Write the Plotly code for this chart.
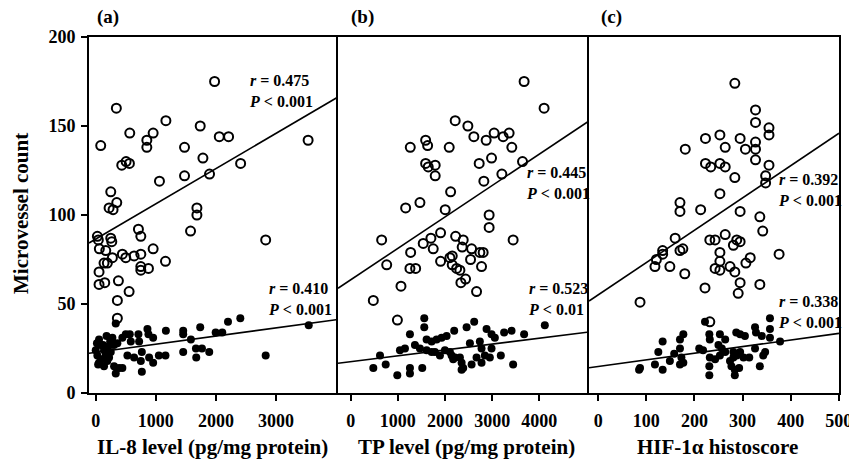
import plotly.graph_objects as go

# ---------------- data ----------------
# Panel (a): IL-8 level vs microvessel count
il8_open_x = [1977, 343, 83, 566, 850, 955, 850, 1167, 1477, 1738, 2055, 2210, 1783, 1893, 2410,
              1477, 1060, 3533, 433, 505, 560, 250, 222, 350, 288, 1683, 1683, 710, 750, 1577,
              27, 43, 60, 250, 267, 167, 277, 443, 500, 638, 750, 955, 138, 193, 55, 377, 55,
              150, 555, 360, 360, 750, 750, 877, 1160, 2827]
il8_open_y = [175, 160, 139, 146, 142, 146, 138, 153, 138, 150, 144, 144, 132, 123, 129,
              122, 119, 142, 128, 130, 129, 113, 104, 107, 103, 104, 100, 92, 88, 91,
              88, 86, 81, 87, 85, 80, 76, 78, 76, 77, 78, 81, 73, 73, 68, 63, 61,
              62, 57, 52, 42, 71, 69, 70, 74, 86]
il8_fill_x = [333, 55, 122, 0, 138, 193, 277, 305, 360, 443, 500, 566, 583, 710, 722, 860, 877,
              955, 1167, 1455, 1455, 1583, 1738, 1995, 2105, 2200, 2405, 3543, 1455, 1667, 1767,
              1672, 1888, 2827, 1050, 1160, 527, 638, 767, 750, 888, 955, 767, 27, 167, 55, 138,
              193, 305, 388, 443, 333, 250, 222, 80, 20, 100, 40, 180, 240]
il8_fill_y = [39, 30, 27, 24, 24, 26, 31, 27, 28, 31, 33, 33, 29, 33, 29, 36, 33,
              31, 35, 35, 33, 30, 37, 34, 34, 40, 42, 38, 23, 25, 25,
              20, 23, 21, 21, 21, 21, 20, 23, 18, 20, 17, 12, 21, 21, 17, 15,
              18, 15, 14, 14, 11, 23, 20, 27, 28, 19, 16, 32, 29]

# Panel (b): TP level vs microvessel count
tp_open_x = [3678, 4102, 2216, 2485, 2612, 2873, 3042, 3233, 3360, 3417, 1263, 1589, 1631, 2089,
             1589, 1644, 1792, 1792, 2725, 2987, 3644, 3206, 2824, 2119, 1165, 1468, 2004, 2936,
             2936, 656, 3445, 1906, 1701, 1538, 1750, 2225, 2386, 2364, 2564, 2739, 2809, 1271,
             763, 1256, 1377, 1906, 2104, 2153, 2153, 2246, 2316, 2542, 2775, 2337, 2436, 2669,
             1066, 479, 990]
tp_open_y = [175, 160, 153, 150, 144, 142, 146, 144, 146, 138, 138, 142, 139, 138,
             129, 127, 128, 122, 129, 132, 130, 123, 119, 113, 104, 107, 103, 100,
             93, 86, 86, 90, 87, 84, 81, 88, 86, 82, 81, 79, 79, 79,
             72, 70, 70, 74, 76, 77, 72, 70, 69, 75, 71, 62, 64, 57,
             60, 52, 41]
tp_fill_x = [1560, 1560, 2619, 2458, 2195, 1256, 2881, 2987, 3057, 3254, 3411, 3678, 4117, 1610,
             1716, 1822, 1928, 2034, 1362, 1468, 1044, 1150, 621, 1610, 1716, 1786, 1892, 1998,
             2104, 2140, 2174, 2210, 2316, 2352, 2386, 2352, 2528, 2739, 2775, 2669, 2775, 2845,
             2951, 2987, 2564, 3184, 3445, 479, 742, 988, 1256, 1256, 1517]
tp_fill_y = [42, 37, 40, 37, 35, 33, 36, 33, 31, 34, 35, 33, 38, 30,
             29, 30, 31, 32, 27, 25, 24, 25, 21, 24, 23, 23, 21, 24,
             23, 21, 19, 20, 20, 17, 14, 13, 28, 29, 25, 20, 17, 21,
             20, 25, 16, 21, 16, 14, 16, 10, 14, 11, 14]

# Panel (c): HIF-1alpha histoscore vs microvessel count
hif_open_x = [284, 327, 327, 355, 355, 223, 253, 295, 264, 306, 327, 327, 181, 327, 223, 234,
              253, 264, 284, 355, 348, 348, 253, 170, 170, 213, 295, 336, 342, 264, 232, 243,
              281, 288, 295, 160, 134, 134, 121, 118, 149, 170, 176, 180, 253, 253, 243, 253,
              274, 284, 307, 316, 376, 295, 291, 336, 222, 87, 232]
hif_open_y = [174, 159, 152, 149, 145, 143, 145, 143, 138, 137, 141, 137, 137, 131, 129, 127,
              129, 127, 121, 128, 122, 118, 112, 107, 102, 103, 102, 99, 91, 89, 86, 86,
              83, 86, 85, 87, 80, 78, 75, 71, 71, 80, 81, 67, 79, 74, 70, 69,
              71, 68, 73, 76, 78, 62, 56, 61, 59, 51, 40]
hif_fill_x = [222, 231, 232, 177, 170, 134, 125, 87, 118, 134, 149, 158, 170, 173, 170, 177, 210,
              218, 232, 231, 231, 243, 253, 250, 264, 257, 253, 264, 274, 277, 284, 284, 287,
              295, 305, 281, 288, 295, 281, 302, 314, 293, 326, 328, 326, 336, 343, 347, 340,
              357, 357, 357, 378, 85]
hif_fill_y = [40, 33, 30, 33, 30, 29, 23, 14, 16, 13, 18, 22, 25, 20, 16, 17, 25,
              24, 20, 15, 10, 19, 33, 27, 30, 25, 21, 23, 18, 15, 13, 10, 34,
              33, 32, 23, 21, 23, 20, 20, 20, 14, 37, 34, 25, 15, 21, 23, 32,
              42, 36, 31, 29, 13]

# regression lines: (intercept, slope)
il8_open_fit = (86.5, 0.0198)
il8_fill_fit = (22.8, 0.0046)
tp_open_fit = (63.6, 0.01765)
tp_fill_fit = (17.6, 0.0033)
hif_open_fit = (55.1, 0.1815)
hif_fill_fit = (14.9, 0.0372)

stats = [("0.475", "0.001"), ("0.410", "0.001"), ("0.445", "0.001"),
         ("0.523", "0.01"), ("0.392", "0.001"), ("0.338", "0.001")]
panel_labels = ["(a)", "(b)", "(c)"]
x_titles = ["IL-8 level (pg/mg protein)", "TP level (pg/mg protein)", "HIF-1α histoscore"]
x_ticks = [[0, 1000, 2000, 3000], [0, 1000, 2000, 3000, 4000], [0, 100, 200, 300, 400, 500]]
y_ticks = [0, 50, 100, 150, 200]
y_title = "Microvessel count"

# ---------------- figure ----------------
FONT = "Liberation Serif"
x_ranges = [[-112, 4030], [-270, 5055], [-19, 500.5]]
domains = [[0, 0.332], [0.332, 0.6667], [0.6667, 1.0]]

panels = [
    (il8_open_x, il8_open_y, il8_fill_x, il8_fill_y, il8_open_fit, il8_fill_fit),
    (tp_open_x, tp_open_y, tp_fill_x, tp_fill_y, tp_open_fit, tp_fill_fit),
    (hif_open_x, hif_open_y, hif_fill_x, hif_fill_y, hif_open_fit, hif_fill_fit),
]

fig = go.Figure()
for i, (ox, oy, fx, fy, ofit, ffit) in enumerate(panels):
    xa = "x" if i == 0 else f"x{i+1}"
    ya = "y" if i == 0 else f"y{i+1}"
    lo, hi = x_ranges[i]
    for fit in (ofit, ffit):
        fig.add_trace(go.Scatter(x=[lo, hi], y=[fit[0] + fit[1] * lo, fit[0] + fit[1] * hi],
                                 mode="lines", line=dict(color="black", width=1.6),
                                 xaxis=xa, yaxis=ya, showlegend=False, hoverinfo="skip"))
    fig.add_trace(go.Scatter(x=ox, y=oy, mode="markers",
                             marker=dict(symbol="circle-open", size=9, color="black",
                                         line=dict(width=2, color="black")),
                             xaxis=xa, yaxis=ya, showlegend=False, cliponaxis=False))
    fig.add_trace(go.Scatter(x=fx, y=fy, mode="markers",
                             marker=dict(symbol="circle", size=8, color="black"),
                             xaxis=xa, yaxis=ya, showlegend=False, cliponaxis=False))

tickfont = dict(family=FONT, size=18, color="black", weight="bold")
titlefont = dict(family=FONT, size=21, color="black", weight="bold")

layout = dict(
    width=849, height=460,
    margin=dict(l=89, r=10, t=37, b=67, autoexpand=False),
    paper_bgcolor="white", plot_bgcolor="white",
    showlegend=False,
)
for i in range(3):
    xk = "xaxis" if i == 0 else f"xaxis{i+1}"
    yk = "yaxis" if i == 0 else f"yaxis{i+1}"
    ya = "y" if i == 0 else f"y{i+1}"
    xa = "x" if i == 0 else f"x{i+1}"
    layout[xk] = dict(domain=domains[i], range=x_ranges[i], anchor=ya, automargin=False,
                      tickvals=x_ticks[i], ticks="outside", ticklen=6, tickwidth=2,
                      tickcolor="black", showline=True, linewidth=2, linecolor="black",
                      mirror=True, showgrid=False, zeroline=False, tickfont=tickfont,
                      ticklabelstandoff=4, ticklabeloverflow="allow")
    ydict = dict(domain=[0, 1], range=[0, 200], anchor=xa, showline=True, linewidth=2,
                 linecolor="black", mirror=(i == 2), showgrid=False, zeroline=False,
                 automargin=False)
    if i == 0:
        ydict.update(tickvals=y_ticks, ticks="outside", ticklen=6, tickwidth=2,
                     tickcolor="black", tickfont=tickfont, ticklabelstandoff=2)
    else:
        ydict.update(matches="y", showticklabels=False, ticks="")
    layout[yk] = ydict

fig.update_layout(**layout)

# annotations (pixel-based placement converted to paper fractions)
W, H = 750.0, 356.0
def px(xp):
    return (xp - 89) / W
def py(yp):
    return (393 - yp) / H

ann_pos = [(247, 91), (266, 298.5), (524, 183), (526, 298.5), (776, 190), (776, 311.5)]
for (r, p), (ax, ay) in zip(stats, ann_pos):
    fig.add_annotation(x=px(ax), y=py(ay), xref="paper", yref="paper",
                       xanchor="left", yanchor="middle", align="left", showarrow=False,
                       text=f"<b><i>r</i> = {r}<br><i>P</i> &lt; {p}</b>",
                       font=dict(family=FONT, size=16, color="black"))

for lab, cx in zip(panel_labels, [108, 362, 611]):
    fig.add_annotation(x=px(cx), y=py(17), xref="paper", yref="paper",
                       xanchor="center", yanchor="middle", showarrow=False,
                       text=f"<b>{lab}</b>", font=dict(family=FONT, size=19, color="black"))

# axis titles
for t, cx in zip(x_titles, [212, 466, 717]):
    fig.add_annotation(x=px(cx), y=py(447), xref="paper", yref="paper",
                       xanchor="center", yanchor="middle", showarrow=False,
                       text=f"<b>{t}</b>", font=titlefont)
fig.add_annotation(x=px(21), y=py(214), xref="paper", yref="paper",
                   xanchor="center", yanchor="middle", showarrow=False, textangle=-90,
                   text=f"<b>{y_title}</b>", font=titlefont)

fig.write_html("out.html")
